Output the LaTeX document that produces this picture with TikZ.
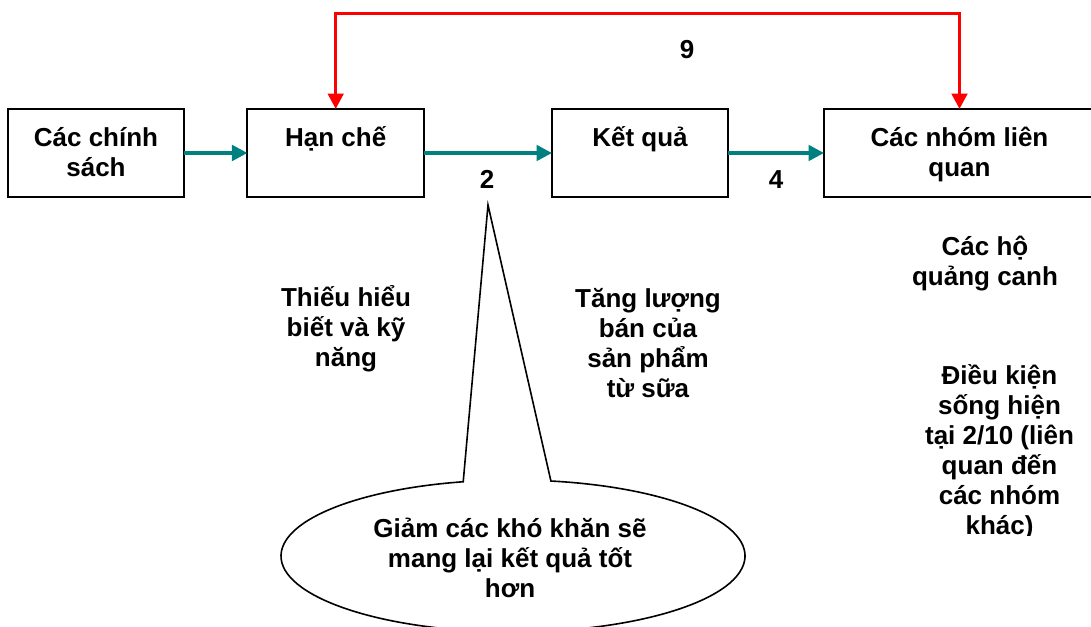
\documentclass[tikz,border=0pt]{standalone}
\usepackage{fontspec}
\setmainfont{Liberation Sans}
\usetikzlibrary{arrows.meta}
\definecolor{tealarrow}{RGB}{0,128,128}
\definecolor{redline}{RGB}{255,0,0}
\newcommand{\bxt}[2]{\parbox[c][88pt][t]{#1}{\centering\rule{0pt}{37pt}#2}}
\begin{document}
\begin{tikzpicture}[x=1pt,y=1pt,
  every node/.style={font=\bfseries\fontsize{26}{30}\selectfont, inner sep=0pt, outer sep=0pt},
  box/.style={draw, line width=2pt, minimum height=88pt},
  txt/.style={align=center, anchor=north},
  num/.style={anchor=base},
  flow/.style={draw=tealarrow, line width=3.5pt, -{Triangle[length=15.5pt,width=15.5pt]}},
  feedback/.style={draw=redline, line width=3.5pt, {Triangle[length=15.5pt,width=15.5pt]}-{Triangle[length=15.5pt,width=15.5pt]}},
  callout/.style={draw, fill=white, line width=1.6pt, line join=miter}]
\useasboundingbox (0,0) rectangle (1091,-626);
\clip (0,0) rectangle (1091,-626);

% boxes
\node[box, minimum width=176pt] (chinhsach) at (96,-153) {\bxt{170pt}{Các chính\\sách}};
\node[box, minimum width=176.5pt] (hanche) at (335.7,-153) {\bxt{170pt}{Hạn chế}};
\node[box, minimum width=176pt] (ketqua) at (640,-153) {\bxt{170pt}{Kết quả}};
\node[box, minimum width=271pt] (nhom) at (959.5,-153) {\bxt{260pt}{Các nhóm liên\\quan}};

% flow arrows
\draw[flow] (chinhsach.east) -- (hanche.west);
\draw[flow] (hanche.east) -- (ketqua.west);
\draw[flow] (ketqua.east) -- (nhom.west);

% feedback
\coordinate (fb) at (0,-13.3);
\draw[feedback] (hanche.north) |- (nhom.north |- fb) -- (nhom.north);

% numbers
\node[num] (n9) at (687,-59) {9};
\node[num] (n2) at (487,-188) {2};
\node[num] (n4) at (776,-188) {4};

% free texts
\node[txt] (thieu) at (346,-281) {\rule{0pt}{25pt}Thiếu hiểu\\biết và kỹ\\năng};
\node[txt] (tang) at (648,-282) {\rule{0pt}{25pt}Tăng lượng\\bán của\\sản phẩm\\từ sữa};
\node[txt] (caho) at (985,-230) {\rule{0pt}{25pt}Các hộ\\quảng canh};
\begin{scope}
\clip (880,-320) rectangle (1091,-535);
\node[txt] (dieukien) at (999.5,-359) {\rule{0pt}{25pt}Điều kiện\\sống hiện\\tại 2/10 (liên\\quan đến\\các nhóm\\khác)};
\end{scope}

% callout
\coordinate (tip) at (488,-205);
\draw[callout] (tip) -- (550.9,-481) arc[start angle=80.6, end angle=-257.6, x radius=232, y radius=76] -- cycle;
\node[txt] (giam) at (510,-512) {\rule{0pt}{25pt}Giảm các khó khăn sẽ\\mang lại kết quả tốt\\hơn};
\end{tikzpicture}
\end{document}
